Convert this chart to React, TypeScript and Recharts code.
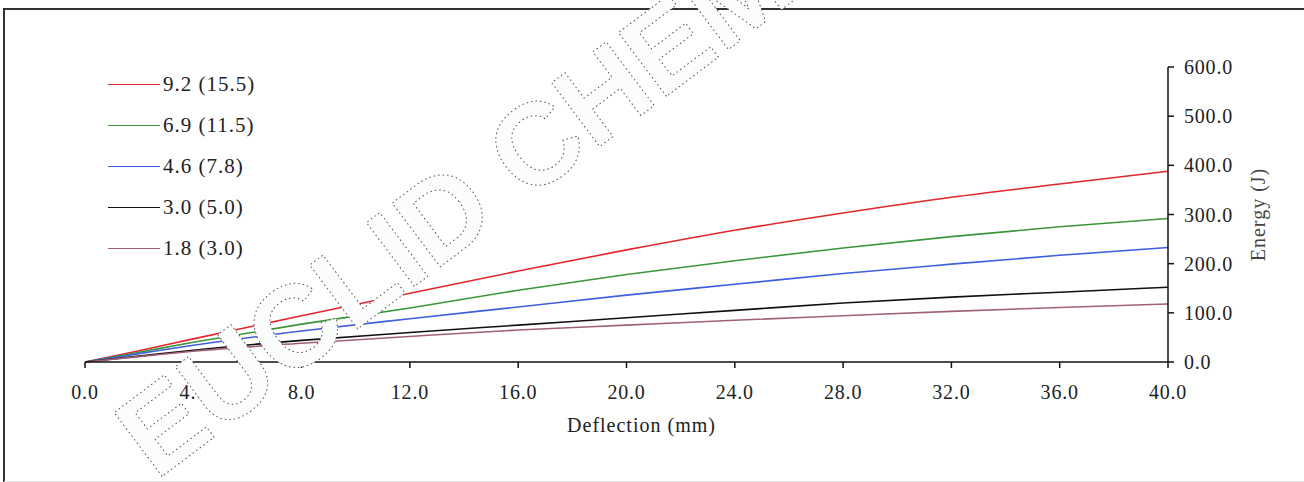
import React from 'react';
import { LineChart, Line, XAxis, YAxis, Legend, Label } from 'recharts';

// deflection (mm)
const deflection = [0, 2, 4, 8, 12, 16, 20, 24, 28, 32, 36, 40];

// energy (J) per load level
const e92 = [0, 23, 47, 94, 140, 185, 228, 268, 303, 335, 362, 388];
const e69 = [0, 20, 40, 77, 110, 146, 178, 206, 232, 255, 275, 292];
const e46 = [0, 17, 34, 63, 88, 112, 136, 158, 180, 199, 217, 233];
const e30 = [0, 12, 24, 44, 60, 75, 90, 105, 120, 132, 142, 152];
const e18 = [0, 11, 22, 38, 52, 65, 75, 85, 94, 103, 111, 118];

const xTicks = [0, 4, 8, 12, 16, 20, 24, 28, 32, 36, 40];
const yTicks = [0, 100, 200, 300, 400, 500, 600];

const series = [
  { key: 's92', name: '9.2 (15.5)', values: e92, color: '#e3262c' },
  { key: 's69', name: '6.9 (11.5)', values: e69, color: '#3b963b' },
  { key: 's46', name: '4.6 (7.8)', values: e46, color: '#3d5fe0' },
  { key: 's30', name: '3.0 (5.0)', values: e30, color: '#111111' },
  { key: 's18', name: '1.8 (3.0)', values: e18, color: '#a0607c' },
];

const data = deflection.map((x, i) => {
  const row: Record<string, number> = { defl: x };
  series.forEach(s => { row[s.key] = s.values[i]; });
  return row;
});

const FONT = '"Liberation Serif", "Times New Roman", serif';
const tickStyle = { fontFamily: FONT, fontSize: 20, fill: '#222', letterSpacing: 0.8 };

function LegendBox() {
  return (
    <div style={{ fontFamily: FONT, fontSize: 21, color: '#222', letterSpacing: 1 }}>
      {series.map(s => (
        <div key={s.key} style={{ display: 'flex', alignItems: 'center', height: 41 }}>
          <div style={{ width: 52, height: 0, borderTop: `1.5px solid ${s.color}`, marginRight: 3 }} />
          <span>{s.name}</span>
        </div>
      ))}
    </div>
  );
}

export default function App() {
  return (
    <div style={{ position: 'absolute', left: 0, top: 0, width: 1304, height: 482, background: '#fff', overflow: 'hidden' }}>
      <div style={{ position: 'absolute', left: 3, top: 8, width: 1310, height: 471, borderLeft: '2px solid #333', borderTop: '2px solid #333', borderBottom: '1px solid #e2e2e2' }} />
      <div style={{ position: 'absolute', left: 0, top: 0 }}>
        <LineChart width={1304} height={482} data={data} margin={{ top: 67, right: 36, left: 85, bottom: 40 }}>
          <XAxis dataKey="defl" type="number" domain={[0, 40]} ticks={xTicks} tickFormatter={v => Number(v).toFixed(1)}
            tick={tickStyle} tickMargin={17} height={80}
            axisLine={{ stroke: '#111', strokeWidth: 1.5 }} tickLine={{ stroke: '#111', strokeWidth: 1.5 }}>
            <Label value="Deflection (mm)" position="insideBottom" offset={10} dx={15}
              style={{ fontFamily: FONT, fontSize: 20, fill: '#222', letterSpacing: 1 }} />
          </XAxis>
          <YAxis orientation="right" type="number" domain={[0, 600]} ticks={yTicks} tickFormatter={v => Number(v).toFixed(1)}
            tick={{ ...tickStyle, textAnchor: 'start' }} tickMargin={10} width={100}
            axisLine={{ stroke: '#111', strokeWidth: 1.5 }} tickLine={{ stroke: '#111', strokeWidth: 1.5 }}>
            <Label value="Energy (J)" angle={-90} position="center" dx={40}
              style={{ fontFamily: FONT, fontSize: 20, fill: '#444', letterSpacing: 1 }} />
          </YAxis>
          <Legend layout="horizontal" verticalAlign="middle" align="center" content={() => <LegendBox />}
            wrapperStyle={{ left: 108, top: 64, width: 220 }} />
          {series.map(s => (
            <Line key={s.key} type="monotone" dataKey={s.key} name={s.name} stroke={s.color} strokeWidth={1.6}
              dot={false} isAnimationActive={false} />
          ))}
        </LineChart>
      </div>
      <svg width={1304} height={482} style={{ position: 'absolute', left: 0, top: 0, pointerEvents: 'none' }}>
        <text x={156} y={481} transform="rotate(-37 156 481)" fontFamily="Arial, 'Liberation Sans', sans-serif"
          fontWeight="bold" fontSize={116} fill="#fbfcfe" stroke="#555" strokeWidth={1} strokeDasharray="1.5 3">
          EUCLID CHEMICAL
        </text>
      </svg>
    </div>
  );
}
